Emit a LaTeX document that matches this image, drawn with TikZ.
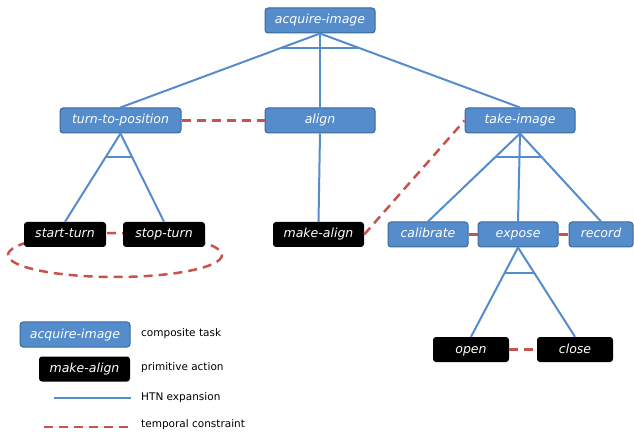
\documentclass[tikz,border=0pt]{standalone}
\usepackage{fontspec}
\setmainfont{DejaVu Sans}
\usepackage{xcolor}
\usepackage{tikz}
\usetikzlibrary{positioning,calc}
\definecolor{taskblue}{RGB}{84,140,204}
\definecolor{taskborder}{RGB}{60,104,156}
\definecolor{linkblue}{RGB}{84,140,204}
\definecolor{consred}{RGB}{200,82,78}
\begin{document}
\begin{tikzpicture}[x=1pt,y=-1pt,
  compositenode/.style={rectangle, rounded corners=3pt, draw=taskborder, line width=1pt, fill=taskblue, text=white, font=\fontsize{12.5}{14}\selectfont\itshape, minimum height=25pt, inner sep=0pt, text height=9.5pt, text depth=2.5pt},
  primitivenode/.style={rectangle, rounded corners=3pt, fill=black, text=white, font=\fontsize{12.5}{14}\selectfont\itshape, minimum height=25pt, inner sep=0pt, text height=9.5pt, text depth=2.5pt},
  htnline/.style={draw=linkblue, line width=2pt},
  templine/.style={draw=consred, line width=2.5pt, dash pattern=on 9pt off 6pt},
  legendtext/.style={font=\fontsize{10.5}{12}\selectfont, anchor=west, inner sep=0pt},]
            \useasboundingbox (0,0) rectangle (634,435);
            %Constraint loop behind the actions
            \draw[templine] (115,255) ellipse [x radius=107, y radius=22];
            %Nodes
            \node[compositenode, minimum width=110pt](task_acquire) at (320,20.5){acquire-image};
            \node[compositenode, minimum width=121pt](task_turn) at (120.5,120.5){turn-to-position};
            \node[compositenode, minimum width=110pt](task_align) at (320,120.5){align};
            \node[compositenode, minimum width=110pt](task_take) at (520,120.5){take-image};
            \node[primitivenode, minimum width=82pt](action_start) at (65,234.5){start-turn};
            \node[primitivenode, minimum width=82pt](action_stop) at (164,234.5){stop-turn};
            \node[primitivenode, minimum width=91pt](action_makealign) at (318.5,234.5){make-align};
            \node[compositenode, minimum width=80pt](task_calibrate) at (428,234.5){calibrate};
            \node[compositenode, minimum width=80pt](task_expose) at (518,234.5){expose};
            \node[compositenode, minimum width=64pt](task_record) at (601,234.5){record};
            \node[primitivenode, minimum width=76pt](action_open) at (471,349.5){open};
            \node[primitivenode, minimum width=76pt](action_close) at (575,349.5){close};
            
            %Lines
            \draw[htnline] (task_acquire.south) -- (task_turn.north);
            \draw[htnline] (task_acquire.south) -- (task_align.north);
            \draw[htnline] (task_acquire.south) -- (task_take.north);
            \draw[htnline] ($(task_acquire.south)!0.2!(task_turn.north)$) -- ($(task_acquire.south)!0.2!(task_take.north)$);
            \draw[htnline] (task_turn.south) -- (action_start.north);
            \draw[htnline] (task_turn.south) -- (action_stop.north);
            \draw[htnline] ($(task_turn.south)!0.27!(action_start.north)$) -- ($(task_turn.south)!0.27!(action_stop.north)$);
            \draw[htnline] (task_align.south) -- (action_makealign.north);
            \draw[htnline] (task_take.south) -- (task_calibrate.north);
            \draw[htnline] (task_take.south) -- (task_expose.north);
            \draw[htnline] (task_take.south) -- (task_record.north);
            \draw[htnline] ($(task_take.south)!0.27!(task_calibrate.north)$) -- ($(task_take.south)!0.27!(task_record.north)$);
            \draw[htnline] (task_expose.south) -- (action_open.north);
            \draw[htnline] (task_expose.south) -- (action_close.north);
            \draw[htnline] ($(task_expose.south)!0.28!(action_open.north)$) -- ($(task_expose.south)!0.28!(action_close.north)$);
            \draw[templine] (task_turn.east) -- (task_align.west);
            \draw[templine] (action_makealign.east) -- (task_take.west);
            \draw[templine] (task_calibrate.east) -- (task_expose.west);
            \draw[templine] (task_expose.east) -- (task_record.west);
            \draw[templine] (action_open.east) -- (action_close.west);
            
            %Legend
            \node[compositenode, minimum width=110pt](legend_composite) at (75,334.5){acquire-image};
            \node[primitivenode, minimum width=91pt](legend_primitive) at (84.5,369){make-align};
            \node[legendtext](legend_composite_text) at (141,334){composite task};
            \node[legendtext](legend_primitive_text) at (141,368){primitive action};
            \node[legendtext](legend_htn_text) at (141,398){HTN expansion};
            \node[legendtext](legend_temporal_text) at (141,425){temporal constraint};
            \coordinate (legend_htn_start) at (54,398);
            \coordinate (legend_temporal_start) at (44,427);
            \draw[htnline] (legend_htn_start) -- ([xshift=-10pt]legend_htn_text.west);
            \draw[templine] (legend_temporal_start) -- ([xshift=-10pt]legend_temporal_text.west |- legend_temporal_start);
        \end{tikzpicture}
\end{document}
